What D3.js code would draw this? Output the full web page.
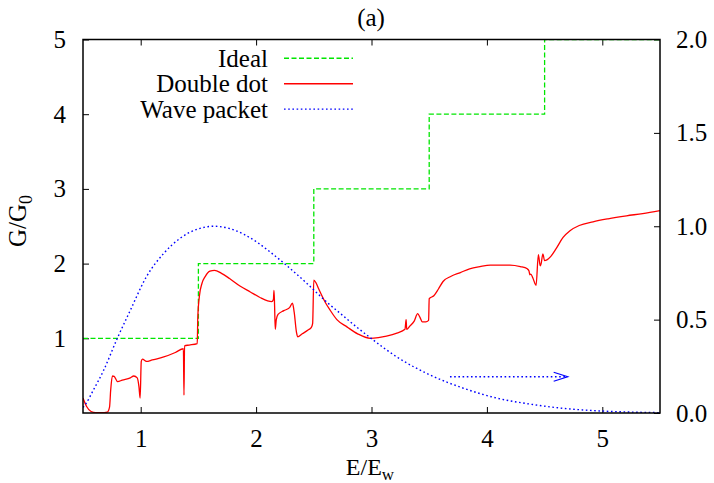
<!DOCTYPE html>
<html>
<head>
<meta charset="utf-8">
<script src="https://cdn.jsdelivr.net/npm/d3@7"></script>
<style>
  html, body { margin: 0; padding: 0; background: #fff; }
  svg { display: block; }
  text { font-family: "Liberation Serif", "DejaVu Serif", "Noto Serif", "Times New Roman", Times, serif; fill: #000; }
</style>
</head>
<body>
<svg id="chart" width="714" height="483"></svg>
<script>
// ---------- data ----------
const title = "(a)";
const xTicks = [1, 2, 3, 4, 5];
const yTicks = [1, 2, 3, 4, 5];
const y2Ticks = [0.0, 0.5, 1.0, 1.5, 2.0];
const legendLabels = ["Ideal", "Double dot", "Wave packet"];

// Ideal conductance (step function)
const idealX = [0.5, 1.5, 2.5, 3.5, 4.5, 5.5];
const idealY = [1, 2, 3, 4, 5, 5];

// Double dot conductance
const dotX = [0.50,0.53,0.57,0.61,0.66,0.71,0.73,0.74,0.755,0.77,0.80,0.84,0.91,0.94,0.97,0.985,0.995,
  1.005,1.015,1.05,1.10,1.20,1.30,1.37,1.375,1.38,1.42,1.49,1.495,1.51,1.53,1.56,1.60,1.64,1.70,1.77,
  1.86,1.95,2.03,2.10,2.135,2.15,2.155,2.16,2.166,2.175,2.19,2.24,2.29,2.315,2.33,2.35,2.36,2.40,2.45,
  2.48,2.49,2.50,2.52,2.54,2.60,2.64,2.70,2.79,2.88,2.99,3.06,3.13,3.22,3.29,3.30,3.305,3.33,3.37,3.40,
  3.42,3.44,3.47,3.495,3.50,3.54,3.58,3.62,3.69,3.77,3.85,3.94,4.03,4.11,4.20,4.29,4.35,4.365,4.372,
  4.38,4.40,4.426,4.446,4.462,4.47,4.485,4.50,4.52,4.55,4.60,4.66,4.72,4.80,4.92,5.05,5.21,5.35,5.50];
const dotY = [0.20,0.09,0.02,0.005,0.005,0.013,0.08,0.31,0.495,0.49,0.42,0.44,0.47,0.495,0.47,0.35,0.20,
  0.69,0.72,0.69,0.71,0.75,0.81,0.86,0.24,0.90,0.91,0.93,1.29,1.58,1.73,1.83,1.90,1.91,1.87,1.80,
  1.70,1.62,1.55,1.50,1.49,1.52,1.64,1.45,1.12,1.25,1.32,1.37,1.41,1.47,1.35,1.08,1.02,1.06,1.11,
  1.15,1.20,1.78,1.74,1.67,1.48,1.38,1.25,1.15,1.06,1.00,1.01,1.03,1.07,1.12,1.25,1.12,1.16,1.23,1.33,
  1.28,1.22,1.22,1.24,1.53,1.57,1.66,1.76,1.83,1.88,1.93,1.96,1.98,1.98,1.98,1.96,1.93,1.90,1.85,
  1.86,1.80,1.71,2.12,1.97,2.00,2.13,2.04,2.05,2.09,2.20,2.35,2.44,2.51,2.56,2.60,2.64,2.67,2.71];

// Wave packet (right axis)
const waveX = [0.50,0.52,0.59,0.68,0.79,0.91,1.05,1.20,1.34,1.49,1.63,1.77,1.90,2.005,2.12,2.265,2.44,
  2.61,2.73,2.87,3.00,3.22,3.51,3.80,4.09,4.37,4.66,4.95,5.24,5.50];
const waveY = [0.03,0.045,0.123,0.23,0.39,0.55,0.73,0.855,0.935,0.984,1.00,0.988,0.955,0.916,0.863,0.79,0.694,
  0.595,0.533,0.461,0.398,0.30,0.203,0.132,0.079,0.048,0.025,0.012,0.005,0.002];

// Arrow pointing to right axis (x from, x to, y on right axis)
const arrowX = [3.68, 4.70];
const arrowY = [0.194, 0.194];

// ---------- layout ----------
const W = 714, H = 483;
const L = 83, R = 660, T = 39.5, B = 413;
const FONT = 25;
const FAMILY = '"Liberation Serif", "DejaVu Serif", "Noto Serif", "Times New Roman", Times, serif';

const svg = d3.select("#chart");
const x = d3.scaleLinear().domain([0.5, 5.5]).range([L, R]);
const y = d3.scaleLinear().domain([0, 5]).range([B, T]);
const y2 = d3.scaleLinear().domain([0, 2]).range([B, T]);

const colors = { ideal: "#00e600", dot: "#ff0000", wave: "#0000ff" };

svg.append("defs").append("clipPath").attr("id", "clip")
  .append("rect").attr("x", L).attr("y", T).attr("width", R - L).attr("height", B - T);

// axes
function styleAxis(g) {
  g.attr("font-family", null).attr("font-size", null);
  g.select(".domain").remove();
  g.selectAll(".tick line").attr("stroke", "#000").attr("stroke-width", 1);
  g.selectAll(".tick text").style("font-size", FONT + "px")
    .style("font-family", FAMILY).attr("fill", "#000");
}
svg.append("g").attr("transform", `translate(0,${B})`)
  .call(d3.axisBottom(x).tickValues(xTicks).tickFormat(d3.format("d")).tickSizeInner(-6).tickSizeOuter(0).tickPadding(16))
  .call(styleAxis);
svg.append("g").attr("transform", `translate(0,${T})`)
  .call(d3.axisTop(x).tickValues(xTicks).tickFormat("").tickSizeInner(-6).tickSizeOuter(0))
  .call(styleAxis);
svg.append("g").attr("transform", `translate(${L},0)`)
  .call(d3.axisLeft(y).tickValues(yTicks).tickFormat(d3.format("d")).tickSizeInner(-6).tickSizeOuter(0).tickPadding(17))
  .call(styleAxis);
svg.append("g").attr("transform", `translate(${R},0)`)
  .call(d3.axisRight(y2).tickValues(y2Ticks).tickFormat(d3.format(".1f")).tickSizeInner(-6).tickSizeOuter(0).tickPadding(16))
  .call(styleAxis);

// curves
const plot = svg.append("g").attr("clip-path", "url(#clip)");

const idealData = idealX.map((d, i) => [d, idealY[i]]);
const dotData = dotX.map((d, i) => [d, dotY[i]]);
const waveData = waveX.map((d, i) => [d, waveY[i]]);

plot.append("path").datum(idealData)
  .attr("d", d3.line().x(d => x(d[0])).y(d => y(d[1])).curve(d3.curveStepAfter))
  .attr("fill", "none").attr("stroke", colors.ideal).attr("stroke-width", 1.3)
  .attr("stroke-dasharray", "5,2.5");

plot.append("path").datum(dotData)
  .attr("d", d3.line().x(d => x(d[0])).y(d => y(d[1])).curve(d3.curveMonotoneX))
  .attr("fill", "none").attr("stroke", colors.dot).attr("stroke-width", 1.3);

plot.append("path").datum(waveData)
  .attr("d", d3.line().x(d => x(d[0])).y(d => y2(d[1])).curve(d3.curveMonotoneX))
  .attr("fill", "none").attr("stroke", colors.wave).attr("stroke-width", 1.4)
  .attr("stroke-dasharray", "1.6,2.6");

// arrow
const ax0 = x(arrowX[0]), ax1 = x(arrowX[1]), ay = y2(arrowY[0]);
plot.append("line").attr("x1", ax0).attr("x2", ax1).attr("y1", ay).attr("y2", ay)
  .attr("stroke", colors.wave).attr("stroke-width", 1.4).attr("stroke-dasharray", "1.6,2.6");
plot.append("path")
  .attr("d", `M${ax1 - 14},${ay - 4.5}L${ax1},${ay}L${ax1 - 14},${ay + 4.5}`)
  .attr("fill", "none").attr("stroke", colors.wave).attr("stroke-width", 1.2);

// border
svg.append("rect").attr("x", L).attr("y", T).attr("width", R - L).attr("height", B - T)
  .attr("fill", "none").attr("stroke", "#000").attr("stroke-width", 1.5);

// legend
const legendStyles = [
  { c: colors.ideal, dash: "5,2.5" },
  { c: colors.dot, dash: null },
  { c: colors.wave, dash: "1.6,2.6" }
];
legendLabels.forEach((lab, i) => {
  const cy = 58.3 + i * 25.4;
  svg.append("text").attr("x", 268).attr("y", cy + 8.5).attr("text-anchor", "end")
    .style("font-size", FONT + "px").style("font-family", FAMILY).text(lab);
  const ln = svg.append("line").attr("x1", 284).attr("x2", 353).attr("y1", cy).attr("y2", cy)
    .attr("stroke", legendStyles[i].c).attr("stroke-width", 1.4);
  if (legendStyles[i].dash) ln.attr("stroke-dasharray", legendStyles[i].dash);
});

// title
svg.append("text").attr("x", 371).attr("y", 26).attr("text-anchor", "middle")
  .style("font-size", FONT + "px").style("font-family", FAMILY).text(title);

// x label
const xl = svg.append("text").attr("x", 370).attr("y", 475).attr("text-anchor", "middle")
  .style("font-size", "24px").style("font-family", FAMILY);
xl.append("tspan").text("E/E");
xl.append("tspan").attr("dy", 5).style("font-size", "17px").text("w");

// y label
const yl = svg.append("text").attr("transform", "translate(26,221) rotate(-90)")
  .attr("text-anchor", "middle").style("font-size", FONT + "px").style("font-family", FAMILY);
yl.append("tspan").text("G/G");
yl.append("tspan").attr("dy", 6).style("font-size", "18px").text("0");
</script>
</body>
</html>
